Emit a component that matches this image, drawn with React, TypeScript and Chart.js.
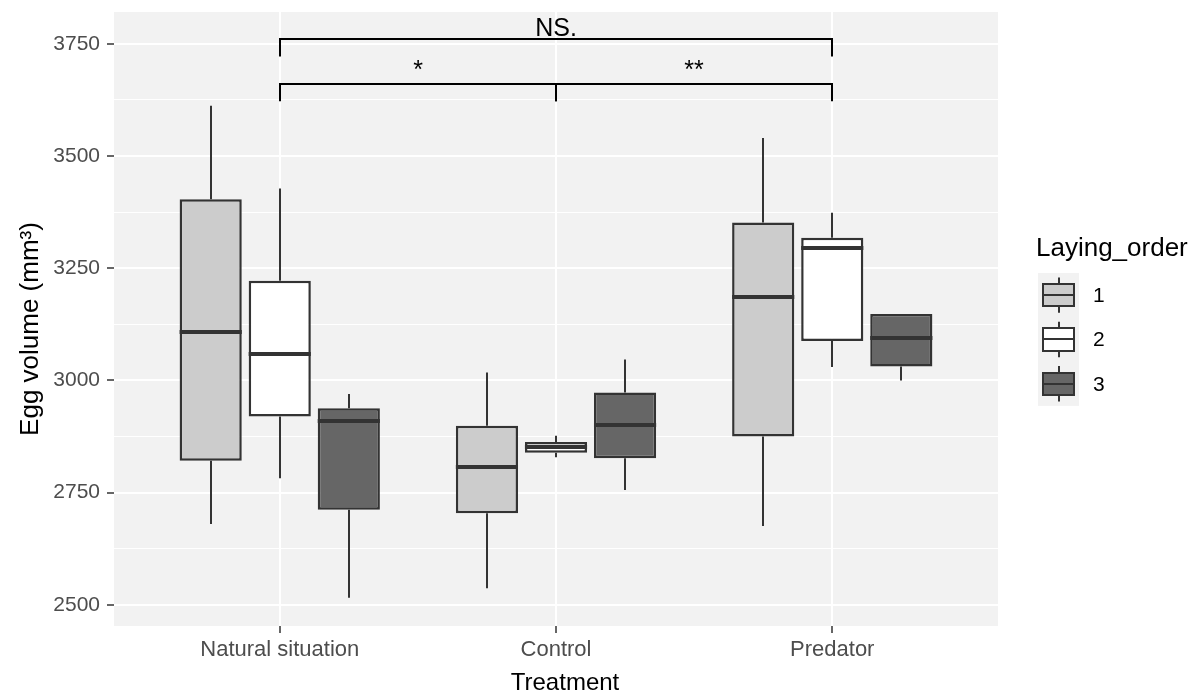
import React, { useEffect, useRef } from 'react';
import { Chart, registerables } from 'chart.js';

Chart.register(...registerables);

// ---------- data ----------
const categories = ['Natural situation', 'Control', 'Predator'];
const layingOrders = ['1', '2', '3'];

// Laying order 1
const order1Min = [2680, 2537, 2676];
const order1Q1 = [2821, 2704, 2875];
const order1Median = [3109, 2808, 3185];
const order1Q3 = [3404, 2899, 3352];
const order1Max = [3612, 3018, 3540];

// Laying order 2
const order2Min = [2782, 2829, 3030];
const order2Q1 = [2920, 2839, 3088];
const order2Median = [3059, 2851, 3295];
const order2Q3 = [3222, 2863, 3318];
const order2Max = [3428, 2877, 3374];

// Laying order 3
const order3Min = [2516, 2756, 3000];
const order3Q1 = [2712, 2827, 3031];
const order3Median = [2910, 2900, 3094];
const order3Q3 = [2938, 2973, 3148];
const order3Max = [2970, 3047, 3148];

const yTicks = [2500, 2750, 3000, 3250, 3500, 3750];
const yMinorTicks = [2625, 2875, 3125, 3375, 3625];

// significance brackets
const bracketFrom = [1, 1, 2];
const bracketTo = [3, 2, 3];
const bracketY = [3760, 3660, 3660];
const bracketTipY = [3722, 3622, 3622];
const bracketLabels = ['NS.', '*', '**'];
const bracketLabelY = [3768, 3673, 3673];

const xTitle = 'Treatment';
const yTitle = 'Egg volume (mm³)';
const legendTitle = 'Laying_order';

// ---------- styling ----------
const FONT = "'Liberation Sans', Arial, sans-serif";
const PANEL_BG = '#F2F2F2';
const fills = ['#CCCCCC', '#FFFFFF', '#666666'];
const dodge = [-0.25, 0, 0.25];

const stats = [
  { min: order1Min, q1: order1Q1, med: order1Median, q3: order1Q3, max: order1Max },
  { min: order2Min, q1: order2Q1, med: order2Median, q3: order2Q3, max: order2Max },
  { min: order3Min, q1: order3Q1, med: order3Median, q3: order3Q3, max: order3Max },
];

const isMajor = (v: number) => yTicks.includes(v);

function line(ctx: CanvasRenderingContext2D, x1: number, y1: number, x2: number, y2: number) {
  ctx.beginPath();
  ctx.moveTo(x1, y1);
  ctx.lineTo(x2, y2);
  ctx.stroke();
}

const panelBgPlugin = {
  id: 'panelBg',
  beforeDraw(chart: any) {
    const { ctx, chartArea } = chart;
    ctx.save();
    ctx.fillStyle = PANEL_BG;
    ctx.fillRect(chartArea.left, chartArea.top, chartArea.right - chartArea.left, chartArea.bottom - chartArea.top);
    ctx.restore();
  },
};

const boxPlugin = {
  id: 'boxParts',
  afterDatasetsDraw(chart: any) {
    const ctx: CanvasRenderingContext2D = chart.ctx;
    const ys = chart.scales.y;
    const xs = chart.scales.x;
    ctx.save();
    ctx.strokeStyle = '#333333';
    ctx.lineCap = 'butt';
    stats.forEach((s, k) => {
      const meta = chart.getDatasetMeta(k);
      meta.data.forEach((el: any, i: number) => {
        const { x, width } = el.getProps(['x', 'width'], true);
        const cx = Math.round(x);
        ctx.lineWidth = 2;
        line(ctx, cx, ys.getPixelForValue(s.q3[i]), cx, ys.getPixelForValue(s.max[i]));
        line(ctx, cx, ys.getPixelForValue(s.q1[i]), cx, ys.getPixelForValue(s.min[i]));
        ctx.lineWidth = 4;
        const ym = Math.round(ys.getPixelForValue(s.med[i]));
        line(ctx, x - width / 2, ym, x + width / 2, ym);
      });
    });
    // significance brackets
    ctx.strokeStyle = '#000000';
    ctx.lineWidth = 2;
    ctx.lineJoin = 'miter';
    bracketFrom.forEach((from, b) => {
      const x1 = Math.round(xs.getPixelForValue(from));
      const x2 = Math.round(xs.getPixelForValue(bracketTo[b]));
      const yb = Math.round(ys.getPixelForValue(bracketY[b]));
      const yt = ys.getPixelForValue(bracketTipY[b]);
      ctx.beginPath();
      ctx.moveTo(x1, yt);
      ctx.lineTo(x1, yb);
      ctx.lineTo(x2, yb);
      ctx.lineTo(x2, yt);
      ctx.stroke();
      ctx.fillStyle = '#000000';
      ctx.font = `25px ${FONT}`;
      ctx.textAlign = 'center';
      ctx.textBaseline = 'alphabetic';
      ctx.fillText(bracketLabels[b], (x1 + x2) / 2, ys.getPixelForValue(bracketLabelY[b]));
    });
    ctx.restore();
  },
};

const textPlugin = {
  id: 'ggTexts',
  afterDraw(chart: any) {
    const ctx: CanvasRenderingContext2D = chart.ctx;
    const area = chart.chartArea;
    ctx.save();
    // axis titles
    ctx.fillStyle = '#000000';
    ctx.textAlign = 'center';
    ctx.textBaseline = 'middle';
    ctx.font = `24px ${FONT}`;
    ctx.fillText(xTitle, (area.left + area.right) / 2 + 9, 683);
    ctx.save();
    ctx.translate(31, (area.top + area.bottom) / 2 + 10);
    ctx.rotate(-Math.PI / 2);
    ctx.font = `26px ${FONT}`;
    ctx.fillText(yTitle, 0, 0);
    ctx.restore();

    // legend
    ctx.textAlign = 'left';
    ctx.textBaseline = 'alphabetic';
    ctx.font = `26px ${FONT}`;
    ctx.fillText(legendTitle, 1036, 256);
    const keyX = 1038;
    const keyW = 41;
    const keyTop = 273;
    const keyH = 44.3;
    ctx.fillStyle = PANEL_BG;
    ctx.fillRect(keyX, keyTop, keyW, keyH * layingOrders.length);
    layingOrders.forEach((lab, k) => {
      const top = keyTop + keyH * k;
      const bx0 = Math.round(keyX + keyW * 0.12);
      const bx1 = Math.round(keyX + keyW * 0.88);
      const cx = Math.round(keyX + keyW / 2);
      const by0 = Math.round(top + keyH * 0.25);
      const by1 = Math.round(top + keyH * 0.75);
      const bm = Math.round(top + keyH / 2);
      ctx.strokeStyle = '#333333';
      ctx.lineWidth = 2;
      line(ctx, cx, top + keyH * 0.1, cx, by0);
      line(ctx, cx, by1, cx, top + keyH * 0.9);
      ctx.fillStyle = fills[k];
      ctx.fillRect(bx0, by0, bx1 - bx0, by1 - by0);
      ctx.strokeRect(bx0, by0, bx1 - bx0, by1 - by0);
      line(ctx, bx0, bm, bx1, bm);
      ctx.fillStyle = '#000000';
      ctx.font = `21px ${FONT}`;
      ctx.textBaseline = 'middle';
      ctx.fillText(lab, 1093, bm + 1);
    });
    ctx.restore();
  },
};

export default function App() {
  const ref = useRef<HTMLCanvasElement>(null);

  useEffect(() => {
    if (!ref.current) return;
    Chart.defaults.font.family = FONT;
    const datasets = stats.map((s, k) => ({
      label: layingOrders[k],
      data: categories.map((_, i) => ({ x: i + 1 + dodge[k], y: [s.q1[i], s.q3[i]] })),
      backgroundColor: fills[k],
      borderColor: '#333333',
      borderWidth: 2.5,
      borderSkipped: false,
      grouped: false,
      categoryPercentage: 1,
      barPercentage: 0.9,
    }));

    const chart = new Chart(ref.current, {
      type: 'bar',
      data: { datasets: datasets as any },
      options: {
        responsive: false,
        animation: false,
        devicePixelRatio: 1,
        events: [],
        layout: { padding: { top: 12, right: 204, bottom: 0, left: 0 } },
        plugins: {
          legend: { display: false },
          tooltip: { enabled: false },
        },
        scales: {
          x: {
            type: 'linear',
            min: 0.4,
            max: 3.6,
            offset: false,
            afterBuildTicks: (s: any) => {
              s.ticks = categories.map((_, i) => ({ value: i + 1 }));
            },
            afterFit: (s: any) => {
              s.height = 74;
              s.paddingLeft = 0;
              s.paddingRight = 0;
            },
            grid: {
              offset: false,
              color: '#FFFFFF',
              lineWidth: 2,
              tickColor: '#333333',
              tickLength: 7,
              tickWidth: 1.5,
            },
            border: { display: false },
            ticks: {
              autoSkip: false,
              maxRotation: 0,
              color: '#4D4D4D',
              font: { size: 22 },
              padding: 4,
              callback: (v: any) => categories[Math.round(Number(v)) - 1] ?? '',
            },
          },
          y: {
            type: 'linear',
            min: 2453,
            max: 3821,
            afterBuildTicks: (s: any) => {
              s.ticks = [...yTicks, ...yMinorTicks].sort((a, b) => a - b).map((v) => ({ value: v }));
            },
            afterFit: (s: any) => {
              s.width = 114;
              s.paddingTop = 0;
              s.paddingBottom = 0;
            },
            grid: {
              color: '#FFFFFF',
              lineWidth: (c: any) => (isMajor(c.tick?.value) ? 2 : 1),
              tickColor: (c: any) => (isMajor(c.tick?.value) ? '#333333' : 'rgba(0,0,0,0)'),
              tickWidth: (c: any) => (isMajor(c.tick?.value) ? 1.5 : 0),
              tickLength: 7,
            },
            border: { display: false },
            ticks: {
              autoSkip: false,
              color: '#4D4D4D',
              font: { size: 21 },
              padding: 7,
              callback: (v: any) => (isMajor(Number(v)) ? String(v) : ''),
            },
          },
        },
      } as any,
      plugins: [panelBgPlugin, boxPlugin, textPlugin],
    });
    return () => chart.destroy();
  }, []);

  return (
    <div style={{ position: 'absolute', left: 0, top: 0, width: 1202, height: 700, background: '#FFFFFF' }}>
      <canvas ref={ref} width={1202} height={700} style={{ width: 1202, height: 700, display: 'block' }} />
    </div>
  );
}
